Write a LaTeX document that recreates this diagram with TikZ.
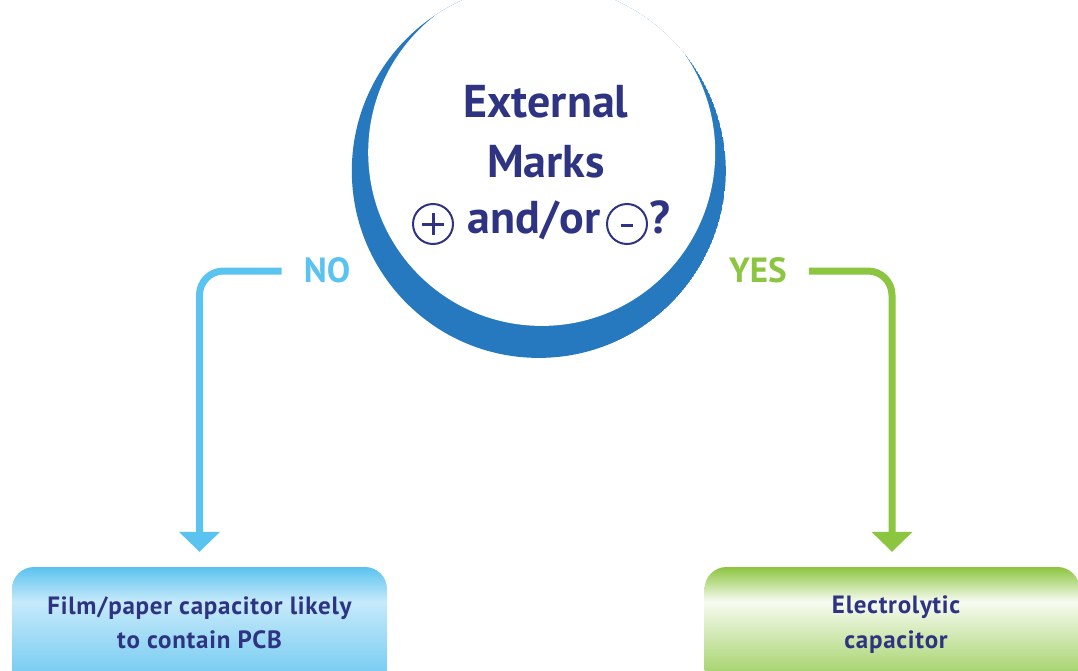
\documentclass[tikz,border=0pt]{standalone}
\usepackage{fontspec}
\setmainfont{PT Sans}
\usetikzlibrary{arrows.meta}

\definecolor{navy}{HTML}{2E3481}
\definecolor{ring}{HTML}{2679BF}
\definecolor{sky}{HTML}{5AC3F0}
\definecolor{leaf}{HTML}{8CC540}
\definecolor{skyT}{HTML}{5BC2EF}
\definecolor{skyL}{HTML}{C6EAFA}
\definecolor{skyB}{HTML}{5CC1EF}
\definecolor{leafT}{HTML}{8CC540}
\definecolor{leafL}{HTML}{F7FBF1}
\definecolor{leafM}{HTML}{A9D572}
\definecolor{leafB}{HTML}{8CC540}

% vertical colour bands for the two answer boxes (0bp = bottom, 100bp = top)
\pgfdeclareverticalshading{skyband}{100bp}{color(0bp)=(skyB); color(25bp)=(skyB); color(62bp)=(skyL); color(75bp)=(skyT); color(100bp)=(skyT)}
\pgfdeclareverticalshading{leafband}{100bp}{color(0bp)=(leafB); color(25bp)=(leafB); color(36bp)=(leafM); color(62bp)=(leafL); color(75bp)=(leafT); color(100bp)=(leafT)}

\tikzset{
  question/.style={text=navy, font=\fontsize{46}{50}\selectfont\bfseries, inner sep=0pt, anchor=base},
  answer/.style={font=\fontsize{35}{39}\selectfont\bfseries, inner sep=0pt},
  boxtext/.style={text=navy, font=\fontsize{25}{29}\selectfont\bfseries\addfontfeature{LetterSpace=3}, inner sep=0pt, anchor=base},
  resultbox/.style={rectangle, rounded corners=22pt, minimum width=375pt, minimum height=133pt, inner sep=0pt},
  signring/.style={circle, draw=navy, line width=2pt, minimum size=40pt, inner sep=0pt},
  signbar/.style={draw=navy, line width=3pt},
  branch/.style={line width=7pt, rounded corners=24pt, -{Triangle[width=40pt,length=20pt]}},
}

\begin{document}
\begin{tikzpicture}[x=1pt, y=-1pt]
\path[use as bounding box] (0,0) rectangle (1078,670);
\clip (0,0) rectangle (1078,670);

% crescent around the question: outer disc minus an offset inner disc
\begin{scope}
  \clip (538.8,170.9) circle[radius=187pt];
  \fill[ring] (538.8,170.9) circle[radius=187pt];
  \fill[white] (541.7,152.4) circle[radius=173.5pt];
\end{scope}

% question text
\node[question] (q1) at (546,117) {External};
\node[question] (q2) at (546,177) {Marks};
\node[question] (q3) at (534,233) {and/or};
\node[question] (q4) at (660,233) {?};
\node[signring] (plus) at (433,224) {};
\node[signring] (minus) at (627,224) {};
\draw[signbar] ([xshift=-11pt]plus.center) -- ([xshift=11pt]plus.center);
\draw[signbar] ([yshift=-11pt]plus.center) -- ([yshift=11pt]plus.center);
\draw[signbar] ([xshift=-6pt,yshift=-1pt]minus.center) -- ([xshift=6pt,yshift=-1pt]minus.center);

% result boxes
\node[resultbox, shading=skyband] (left) at (199.5,633.5) {};
\node[resultbox, shading=leafband] (right) at (892,633.5) {};
\node[boxtext] (l1) at (199.5,614) {Film/paper capacitor likely};
\node[boxtext] (l2) at (199.5,648) {to contain PCB};
\node[boxtext] (r1) at (896,613) {Electrolytic};
\node[boxtext] (r2) at (896,648) {capacitor};

% branch labels and connectors
\node[answer, text=sky] (no) at (327,270) {NO};
\node[answer, text=leaf] (yes) at (758,270) {YES};
\draw[branch, sky] ([xshift=-22pt,yshift=-1pt]no.west) -| ([yshift=15pt]left.north);
\draw[branch, leaf] ([xshift=22pt,yshift=-1pt]yes.east) -| ([yshift=15pt]right.north);
\end{tikzpicture}
\end{document}
